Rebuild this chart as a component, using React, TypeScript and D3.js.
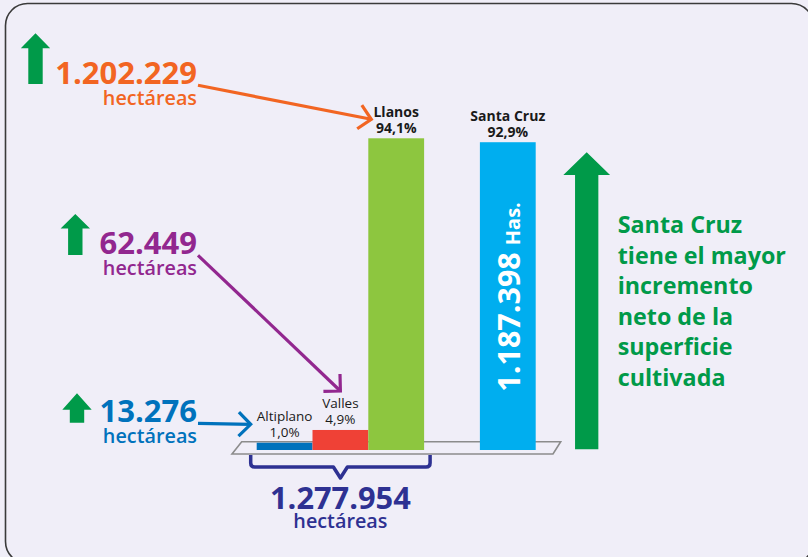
import React, { useEffect } from "react";
import * as d3 from "d3";

// superficie cultivada por región (participación en el incremento)
const regions = ["Altiplano", "Valles", "Llanos", "Santa Cruz"];
const shares = [1.0, 4.9, 94.1, 92.9];
const barColors = ["#0072bc", "#ef4136", "#8dc63f", "#00aeef"];
const boldLabel = [false, false, true, true];

// incrementos en hectáreas (Altiplano, Valles, Llanos)
const increments = [13276, 62449, 1202229];
const calloutColors = ["#0072bc", "#92278f", "#f26522"];
const totalIncrement = 1277954;
const santaCruzHas = 1187398;

const noteLines = ["Santa Cruz", "tiene el mayor", "incremento", "neto de la", "superficie", "cultivada"];

const W = 808;
const H = 557;
const FONT = "'Open Sans', 'Noto Sans', sans-serif";
const GREEN = "#009a49";
const BG = "#f0eef8";

const locale = d3.formatLocale({ decimal: ",", thousands: ".", grouping: [3], currency: ["", ""] });
const fmtInt = locale.format(",d");
const fmtPct = (v: number) => locale.format(".1f")(v) + "%";

function upArrow(cx: number, top: number, bottom: number, headW: number, headH: number, shaftW: number) {
  const p = d3.path();
  p.moveTo(cx, top);
  p.lineTo(cx + headW / 2, top + headH);
  p.lineTo(cx + shaftW / 2, top + headH);
  p.lineTo(cx + shaftW / 2, bottom);
  p.lineTo(cx - shaftW / 2, bottom);
  p.lineTo(cx - shaftW / 2, top + headH);
  p.lineTo(cx - headW / 2, top + headH);
  p.closePath();
  return p.toString();
}

export default function App() {
  useEffect(() => {
    document.body.style.margin = "0";
  }, []);

  const x = d3.scaleBand<string>()
    .domain(["Altiplano", "Valles", "Llanos", "_", "Santa Cruz"])
    .range([256.7, 535.7])
    .padding(0);
  const y = d3.scaleLinear().domain([0, 100]).range([446, 119]);
  const base = 450;
  const bw = x.bandwidth();

  const bars = regions.map((r, i) => ({ r, v: shares[i], color: barColors[i], bold: boldLabel[i] }));

  const x0 = x(regions[0])!;
  const x2 = x(regions[2])! + bw;
  const xEnd = x.range()[1];

  // callouts: number baseline, arrow target, small green arrow
  const callouts = [
    {
      value: increments[2], color: calloutColors[2], base: 84.3,
      tip: [x(regions[2])! + 3, y(shares[2]) - 19] as [number, number],
      arrow: { cx: 35.5, top: 33.3, bottom: 84, headH: 15 },
    },
    {
      value: increments[1], color: calloutColors[1], base: 254.3,
      tip: [x(regions[1])! + bw / 2, y(shares[1]) - 39] as [number, number],
      arrow: { cx: 75.3, top: 214, bottom: 255, headH: 14.5 },
    },
    {
      value: increments[0], color: calloutColors[0], base: 422.3,
      tip: [x0 - 6, y(shares[0]) - 18.4] as [number, number],
      arrow: { cx: 77, top: 393.3, bottom: 422.7, headH: 16.5 },
    },
  ];

  const headFor = (from: [number, number], to: [number, number], len: number) => {
    const a = Math.atan2(to[1] - from[1], to[0] - from[0]);
    const a1 = a + Math.PI - Math.PI / 4;
    const a2 = a + Math.PI + Math.PI / 4;
    return `M${to[0] + len * Math.cos(a1)},${to[1] + len * Math.sin(a1)}L${to[0]},${to[1]}L${to[0] + len * Math.cos(a2)},${to[1] + len * Math.sin(a2)}`;
  };

  const braceL = x0 - 6;
  const braceR = x2 + 6;
  const braceMid = (braceL + braceR) / 2;
  const bTop = 455;
  const bY = 467;

  return (
    <svg width={W} height={H} style={{ display: "block", background: BG }} fontFamily={FONT}>
      <rect x={0} y={0} width={W} height={H} fill={BG} />
      {/* frame */}
      <rect x={5.5} y={3.5} width={808} height={560} rx={22} ry={22} fill="none" stroke="#3a3a3a" strokeWidth={1.6} />

      {/* base platform */}
      <polygon
        points={`${x0 - 15},${base - 8.3} ${xEnd + 25},${base - 8.3} ${xEnd + 17.3},${base + 4} ${x0 - 24.7},${base + 4}`}
        fill={BG}
        stroke="#8c8c8c"
        strokeWidth={1.6}
      />

      {/* bars */}
      {bars.map((d) => (
        <g key={d.r}>
          <rect x={x(d.r)} y={y(d.v)} width={bw} height={base - y(d.v)} fill={d.color} />
          <text
            x={x(d.r)! + bw / 2}
            y={y(d.v) - 21.5}
            textAnchor="middle"
            fontSize={d.bold ? 14 : 13.5}
            fontWeight={d.bold ? 700 : 400}
            fill="#1a1a1a"
          >
            {d.r}
          </text>
          <text
            x={x(d.r)! + bw / 2}
            y={y(d.v) - 5.5}
            textAnchor="middle"
            fontSize={d.bold ? 14 : 13.5}
            fontWeight={d.bold ? 700 : 400}
            fill="#1a1a1a"
          >
            {fmtPct(d.v)}
          </text>
        </g>
      ))}

      {/* vertical label inside Santa Cruz bar */}
      <text
        transform={`translate(${x("Santa Cruz")! + bw / 2 + 12.6},${391.7}) rotate(-90)`}
        fill="#ffffff"
        fontWeight={700}
      >
        <tspan fontSize={30.5}>{fmtInt(santaCruzHas)}</tspan>
        <tspan fontSize={20} dx={7}>Has.</tspan>
      </text>

      {/* callouts */}
      {callouts.map((c) => {
        const from: [number, number] = [198, c.base + 1];
        return (
          <g key={c.value}>
            <path d={upArrow(c.arrow.cx, c.arrow.top, c.arrow.bottom, 29.4, c.arrow.headH, 14.4)} fill={GREEN} />
            <text x={197} y={c.base} textAnchor="end" fontSize={31} fontWeight={700} fill={c.color}>
              {fmtInt(c.value)}
            </text>
            <text x={197} y={c.base + 21} textAnchor="end" fontSize={19.8} fontWeight={600} fill={c.color}>
              hectáreas
            </text>
            <line x1={from[0]} y1={from[1]} x2={c.tip[0]} y2={c.tip[1]} stroke={c.color} strokeWidth={3.2} />
            <path d={headFor(from, c.tip, 17)} fill="none" stroke={c.color} strokeWidth={3.2} />
          </g>
        );
      })}

      {/* brace with total */}
      <path
        d={`M${braceL},${bTop}L${braceL},${bY - 4}Q${braceL},${bY} ${braceL + 4},${bY}L${braceMid - 7},${bY}L${braceMid},${bY + 11}L${braceMid + 7},${bY}L${braceR - 4},${bY}Q${braceR},${bY} ${braceR},${bY - 4}L${braceR},${bTop}`}
        fill="none"
        stroke="#2e3192"
        strokeWidth={3.5}
        strokeLinejoin="round"
      />
      <text x={braceMid} y={509.3} textAnchor="middle" fontSize={30.8} fontWeight={700} fill="#2e3192">
        {fmtInt(totalIncrement)}
      </text>
      <text x={braceMid} y={528.3} textAnchor="middle" fontSize={19.8} fontWeight={600} fill="#2e3192">
        hectáreas
      </text>

      {/* big arrow and note */}
      <path d={upArrow(586.7, 152.3, 449.3, 46.7, 22.7, 23.3)} fill={GREEN} />
      {noteLines.map((t, i) => (
        <text key={t} x={617.7} y={233.3 + i * 30.5} fontSize={23.3} fontWeight={700} fill={GREEN}>
          {t}
        </text>
      ))}
    </svg>
  );
}
